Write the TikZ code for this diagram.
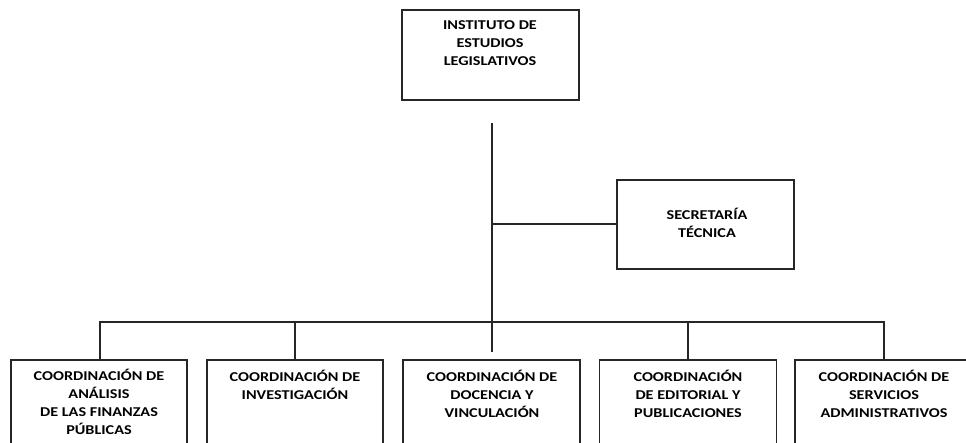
\documentclass[tikz,border=0pt]{standalone}
\usepackage{fontspec}
\setmainfont{Carlito}[FakeStretch=1.2]
\begin{document}
\begin{tikzpicture}[x=1pt,y=-1pt,
  line width=1.3pt,
  boxst/.style={draw=black!85, line width=1.3pt, rectangle, inner sep=0pt},
  lbl/.style={font=\fontsize{13.5}{18}\selectfont\bfseries, align=center, inner sep=0pt, text=black},
  conn/.style={draw=black!85, line width=1.3pt}]
\useasboundingbox (0,0) rectangle (966,442);
\clip (0,0) rectangle (966,442);
% top box
\node[boxst, minimum width=177pt, minimum height=90pt] (ile) at (490.5,55) {};
\node[lbl] (ilet) at (490,43.5) {INSTITUTO DE\\ESTUDIOS\\LEGISLATIVOS};
% secretaria
\node[boxst, minimum width=177pt, minimum height=89pt] (st) at (705.5,224.5) {};
\node[lbl] (stt) at (707,222.5) {SECRETARÍA\\TÉCNICA};
% bottom boxes
\node[boxst, minimum width=176pt, minimum height=120pt] (b1) at (99,420) {};
\node[boxst, minimum width=176pt, minimum height=120pt] (b2) at (295,420) {};
\node[boxst, minimum width=177pt, minimum height=120pt] (b3) at (491.5,420) {};
\node[boxst, minimum width=177pt, minimum height=120pt] (b4) at (688,420) {};
\node[boxst, minimum width=178pt, minimum height=120pt] (b5) at (884,420) {};
\node[lbl] (t1) at (99,402) {COORDINACIÓN DE\\ANÁLISIS\\DE LAS FINANZAS\\PÚBLICAS};
\node[lbl] (t2) at (295,385) {COORDINACIÓN DE\\INVESTIGACIÓN};
\node[lbl] (t3) at (492,394) {COORDINACIÓN DE\\DOCENCIA Y\\VINCULACIÓN};
\node[lbl] (t4) at (688,394) {COORDINACIÓN\\DE EDITORIAL Y\\PUBLICACIONES};
\node[lbl] (t5) at (884,394) {COORDINACIÓN DE\\SERVICIOS\\ADMINISTRATIVOS};
% connectors
\coordinate (vtop) at (492,123);
\coordinate (vjoin) at (492,224);
\coordinate (vbus) at (492,322);
\coordinate (vend) at (492,352);
\coordinate (busl) at (100,322);
\coordinate (busr) at (884,322);
\draw[conn] (vtop) -- (vend);
\draw[conn] (vjoin) -- (vjoin -| st.west);
\draw[conn] (b1.north -| busl) |- (busr) -- (b5.north);
\draw[conn] (b2.north) -- (b2.north |- busl);
\draw[conn] (b4.north) -- (b4.north |- busl);
\end{tikzpicture}
\end{document}
